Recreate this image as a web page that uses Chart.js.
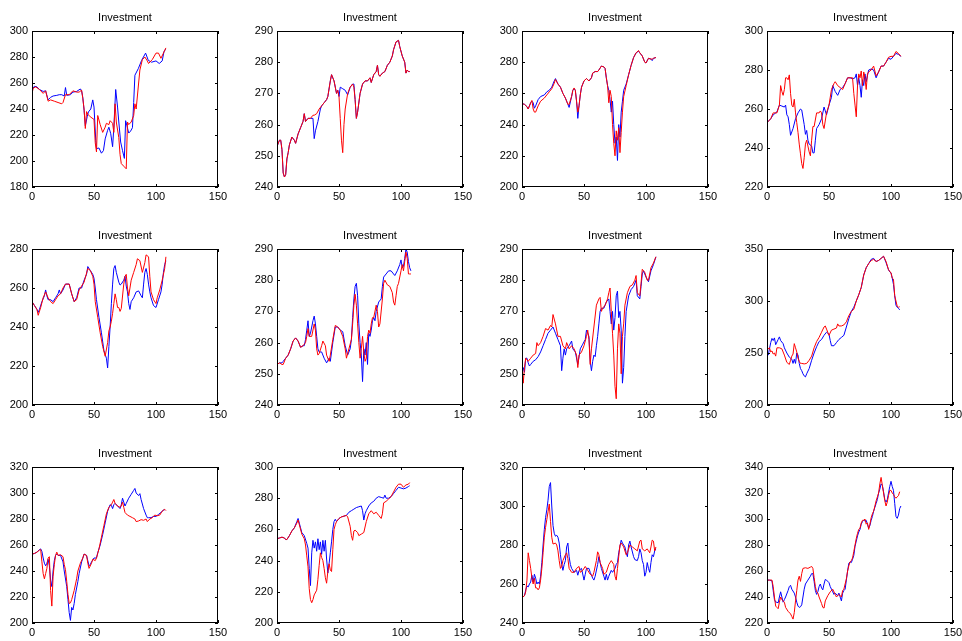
<!DOCTYPE html>
<html>
<head>
<meta charset="utf-8">
<script src="https://cdn.jsdelivr.net/npm/chart.js@4.4.0/dist/chart.umd.min.js"></script>
<style>
    html, body { margin: 0; padding: 0; background: #fff; overflow: hidden; }
    #grid { position: relative; width: 962px; height: 641px; }
    .cell { position: absolute; width: 245px; height: 218px; }
</style>
</head>
<body>
<div id="grid"></div>
<script>
const titleText = 'Investment';
const xTicks = [0, 50, 100, 150];

const yTicks01 = [180, 200, 220, 240, 260, 280, 300];
const yTicks02 = [240, 250, 260, 270, 280, 290];
const yTicks03 = [200, 220, 240, 260, 280, 300];
const yTicks04 = [220, 240, 260, 280, 300];
const yTicks05 = [200, 220, 240, 260, 280];
const yTicks06 = [240, 250, 260, 270, 280, 290];
const yTicks07 = [240, 250, 260, 270, 280, 290];
const yTicks08 = [200, 250, 300, 350];
const yTicks09 = [200, 220, 240, 260, 280, 300, 320];
const yTicks10 = [200, 220, 240, 260, 280, 300];
const yTicks11 = [240, 260, 280, 300, 320];
const yTicks12 = [220, 240, 260, 280, 300, 320, 340];

// [x, value] pairs
const blue01 = [[0,255],[2,257.5],[4,257],[6,255],[9,253.5],[11,254],[13,247],[15,249],[17,250],[20,250.5],[22,251],[24,251],[26,250],[27,256.5],[28,250.5],[31,251],[33,253],[36,253.5],[39,255.4],[40,254],[41,248.7],[42,239],[43,227],[44.5,234],[45.5,237.7],[47.4,240],[49,247],[50,241.5],[51.4,216],[52,209.5],[54,210],[56,206],[57.6,208],[59,217],[61,223.6],[62,226],[63.5,221],[65,211],[66,226],[67.5,255],[69,241.5],[70,230],[71.5,214.6],[73,208],[74.5,202],[75.5,231],[76.6,227],[78,221.5],[79.5,223],[81,225.6],[82,245],[83,266],[85.7,271],[88.4,277.4],[91.6,283],[93.8,277.4],[96.4,276],[100,277],[102.6,275],[105,277],[106.4,284],[107.7,286]];
const red01 = [[0,252],[1,256],[3,257],[6,255],[9,252],[11,254],[13,246],[15,247],[18,246],[21,245],[24,244],[25,245],[27,251],[30,251],[33,254],[36,253],[38,253],[40,254.5],[41,248],[42,240],[43,225],[44,238],[45,236],[47,234],[50,232],[51,214],[52,207],[53,235],[55,228],[57,222],[59,226],[60,229],[62,228],[63,231],[65,229],[66,222],[67,244],[68,230],[70,218],[71,205],[72,198],[74,196],[76,194],[77,230],[78,228],[80,230],[82,235],[83,244],[84,240],[86,260],[87,270],[89,278],[91,280],[93,277],[94,275],[97,278],[100,283],[102,283],[104,279],[106,283],[108,287]];

const blue02 = [[0,253],[2,255],[3,255],[4,252],[5,244.5],[6,243.2],[7,244],[8,249],[9,251],[10,253.5],[12,256],[14,255],[15,254],[17,257],[19,259],[21,261],[22,263.5],[23,261],[25,262],[27,262],[29,262],[30,255.5],[31,258],[33,261],[35,265],[36,266],[38,267],[40,268],[41,269],[43,274],[44,276],[46,274],[48,270],[49,271],[50,269],[51,272],[53,271.5],[55,271],[57,269.5],[59,272],[61,273],[62,273],[63,268],[64,262],[65,264],[67,270],[69,273],[71,274],[73,274],[75,275],[76,273.5],[78,276],[80,277],[81,279],[82,276],[83,275.5],[85,276.5],[87,277],[89,279],[91,280],[93,282],[94,284],[96,286.5],[98,287],[99,285],[101,282],[103,280],[104,276.5],[105,277.5],[106,277],[107,277]];
const red02 = [[0,253],[2,255],[3,255],[4,252],[5,244.5],[6,243.2],[7,244],[8,249],[9,251],[10,253.5],[12,256],[14,255],[15,254],[17,257],[19,259],[21,261],[22,263.5],[23,261],[25,262],[27,262],[29,263],[30,263],[32,263.5],[34,265],[36,266],[38,267],[40,268],[41,269],[43,274],[44,276],[46,274],[48,270],[49,271],[50,269],[51,262],[52,255],[53,251],[54,260],[55,265],[57,270],[59,272],[61,273],[62,272],[63,268],[64,262],[65,264],[67,270],[69,273],[71,274],[73,274],[75,275],[76,273.5],[78,276],[80,277],[81,279],[82,276],[83,275.5],[85,276.5],[87,277],[89,279],[91,280],[93,282],[94,284],[96,286.5],[98,287],[99,285],[101,282],[103,280],[104,276.5],[105,277.5],[106,277],[107,277]];

const blue03 = [[0,253.5],[2,253],[4,251.5],[5,250],[7,254],[8,255],[9,254],[10,250.5],[11,252],[13,256],[15,258],[18,259],[20,261],[22,262],[24,264],[26,268],[27,269.5],[29,266],[31,264],[33,260],[35,257],[37,253],[38,251],[40,258],[41,262],[42,263],[43,262],[44,255],[45,244],[46,252],[47,259],[48,264],[50,268],[52,269.5],[54,268],[56,270],[57,273],[59,274],[61,274],[62,275],[64,277.5],[66,277],[67,276],[68,270],[69,265],[70,262],[71,256],[72,248],[73,255],[74,240],[75,228],[76,232],[77,217],[78,240],[79,232],[80,248],[81,255],[82,262],[84,266],[86,272],[88,278],[90,283],[92,286],[94,287],[95,286],[97,284],[99,280],[100,279.5],[102,282.5],[104,282],[105,281],[106,282.5],[108,283]];
const red03 = [[0,253.5],[2,253],[4,251.5],[5,250],[7,254],[8,255.5],[9,250],[10,248],[11,248],[13,252],[15,255],[18,257],[20,259],[22,261],[24,263],[26,266.5],[27,269],[29,266],[31,264],[33,260],[35,257],[37,253],[38,253],[40,258],[41,262],[42,263.5],[43,262],[44,255],[45,248],[46,252],[47,259],[48,264],[50,268],[52,269.5],[54,268],[56,270],[57,273],[59,274],[61,274],[62,275],[64,277.5],[66,277],[67,276],[68,270],[69,265],[70,254],[71,262],[72,258],[73,240],[74,228],[75,220],[76,236],[77,230],[78,238],[79,222],[80,235],[81,248],[82,258],[84,265],[86,272],[88,278],[90,283],[92,286],[94,287.5],[95,286],[97,284],[99,280],[100,279.5],[102,282.5],[104,282],[105,282],[106,282.5],[108,283]];

const blue04 = [[0,253],[3,255],[5,257],[8,258.5],[10,262],[12,261.5],[14,261],[15,262],[16,257],[17,256],[18,252],[19,246.5],[21,250],[23,255],[25,258],[27,260],[28,259.5],[30,252],[31,247],[32,249],[33,244],[34,242],[36,241],[37,237.5],[38,237.5],[39,244],[40,250],[42,252],[44,255],[46,261],[47,259],[48,257],[50,262],[52,266],[53,272],[55,269],[57,267],[59,270],[61,271],[63,273],[65,276],[67,276],[69,275.5],[71,276],[72,278],[73,272],[74,276],[75,272],[76,266],[77,275],[78,272],[79,278],[80,274],[82,280],[84,280.5],[86,280],[88,276],[90,279],[92,282],[94,282],[96,284],[98,286],[100,285.5],[102,287],[104,288.5],[106,288],[108,287]];
const red04 = [[0,253],[3,255],[5,258],[8,258],[10,262],[11,272],[12,269],[13,267],[14,270],[15,276],[16,276],[17,275],[18,277.5],[19,268],[20,262],[21,261],[22,265],[23,258],[24,253],[25,248],[26,242],[27,237],[28,232],[29,229.5],[30,235],[31,242],[32,244],[33,241],[34,238],[35,236],[36,244],[37,251],[38,251],[40,258],[42,258],[43,259],[44,258],[45,252],[46,250],[48,258],[50,262],[52,270],[54,273],[55,274],[57,272],[59,271],[61,270],[63,273],[65,276],[67,276],[69,276],[70,268],[71,262],[72,256],[73,272],[74,278],[75,276],[76,279.5],[77,272],[78,279],[79,276],[80,270],[81,278],[82,279],[84,280],[86,282],[88,277],[90,279],[92,282],[94,282],[96,284],[98,286.5],[100,287],[102,287],[104,289.5],[106,288.5],[108,287]];

const blue05 = [[0,253],[2,251],[4,249],[5,247.5],[6,249],[8,253],[10,256],[11,259],[12,256],[13,254],[15,254],[17,253],[19,255],[21,257],[22,259],[23,257],[25,259],[27,262],[30,262],[32,257],[34,253],[36,255],[38,260],[40,260],[42,264],[44,267],[45,271],[47,269],[49,267],[50,265],[51,260],[52,254],[54,245],[56,237],[58,228],[60,224],[61,219],[62,230],[63,240],[64,252],[65,262],[66,270],[67,271.5],[68,268],[70,263],[71,261.5],[72,262],[74,264],[75,266],[76,261],[77,258],[78,252],[79,249],[80,253],[82,255],[84,258],[86,258.5],[88,256],[89,255],[90,262],[91,268],[92,270],[93,267],[94,262],[95,258],[96,255],[98,251],[100,250],[102,254],[104,258],[105,262],[106,268],[107,272],[108,274]];
const red05 = [[0,253],[2,251],[4,249],[5,246],[7,250],[9,255],[11,258],[13,255],[15,253],[17,252],[19,254],[21,256],[23,257],[25,260],[27,262],[30,262],[32,257],[34,253],[36,254],[38,259],[40,261],[42,263],[45,270],[47,269],[49,266],[50,262],[51,253],[53,245],[55,237],[57,230],[59,225],[61,232],[62,238],[63,240],[64,243],[65,247],[66,252],[67,257],[68,254],[69,250],[70,250],[71,248],[72,249.5],[74,262],[75,266],[76,267],[77,260],[78,256],[80,264],[82,268],[84,272],[85,275],[87,274],[89,268],[91,273],[92,277],[94,276],[95,266],[96,258],[98,254],[100,252],[101,255],[103,259],[105,264],[107,270],[108,276]];

const blue06 = [[0,253],[2,253.5],[4,253.5],[5,254],[7,255],[9,256],[11,258],[13,260.5],[15,261.5],[17,260.5],[19,258.5],[21,259],[22,259],[23,261],[24,264],[25,267],[26,262],[27,263],[28,265],[29,267],[30,268.5],[31,266],[32,262],[33,258],[34,257],[36,257],[38,255],[40,253.5],[42,255],[43,254],[44,257],[45,260],[47,265],[49,265],[51,264],[53,263.5],[55,259],[57,256],[59,258],[60,261],[61,268],[62,274],[63,278],[64,279],[65,275],[66,266],[67,260],[68,256],[69,247.5],[70,258],[71,256],[72,260],[73,253],[74,263],[75,262],[76,264],[77,267],[78,268],[79,267],[80,270],[82,273],[84,274],[85,278],[86,281],[88,282],[90,283],[92,283],[94,282],[95,281.5],[97,283],[99,285],[100,286.5],[101,284],[102,284.5],[103,287],[104,290],[105,289],[106,286],[107,284],[108,283]];
const red06 = [[0,253],[2,253.5],[4,253],[5,253],[7,255],[9,256],[11,258],[13,260.5],[15,261.5],[17,260.5],[19,258.5],[21,259],[23,260],[24,262],[25,264.5],[26,262],[28,262],[30,266],[31,264],[32,258],[33,256],[34,256.5],[36,259],[37,260.5],[39,259],[40,256],[42,254],[43,256],[45,261],[47,265.5],[49,265],[51,264],[53,262],[55,258],[56,255],[58,258],[60,261],[61,266],[62,272],[63,275.5],[64,272],[65,266],[66,260],[67,255],[68,258],[69,262],[70,257],[71,254],[72,255],[73,262],[74,264],[75,263],[76,266],[77,268],[78,268],[80,272],[81,270],[82,265],[83,266],[85,274],[86,279],[87,280],[89,278.5],[91,278],[93,276],[94,273],[95,272],[96,275],[97,278],[98,279],[100,283],[101,285],[102,283],[103,286],[104,289],[105,287],[106,282],[107,282],[108,282]];

const blue07 = [[0,250],[1,252],[2,250.5],[3,255],[4,255],[5,253.5],[6,252.5],[7,253],[9,254],[11,254.5],[13,255.5],[15,257],[17,259],[19,261],[21,263],[23,264],[25,265],[27,263],[29,261],[31,259],[32,251],[33,255],[34,258],[35,256],[36,258],[38,259],[40,260.5],[41,258],[43,257],[45,253],[47,258],[49,259.5],[51,261],[52,264],[53,263],[54,262],[55,254],[56,251],[57,254],[58,256],[59,255.5],[60,259],[61,262],[62,266],[63,270],[64,271],[66,271],[68,273],[70,274],[71,270],[72,266],[73,270],[74,264],[75,268],[76,275],[77,276.5],[78,268],[79,270],[80,264],[81,247],[82,252],[83,262],[84,270],[86,275],[88,277],[90,278],[92,280],[93,275],[95,274],[96,278],[97,282],[98,283],[100,281],[102,279.5],[104,283],[106,285],[108,287.5]];
const red07 = [[0,253],[1,247],[2,252],[3,255],[4,254.5],[5,254],[7,255],[9,256],[11,256.5],[12,260],[13,259],[15,260],[17,262],[19,264.5],[21,264],[23,265.5],[24,265],[25,269],[27,266],[29,262],[31,262],[33,259],[35,258],[36,260],[38,258],[40,259],[42,258],[44,256],[45,252],[46,256],[48,257],[50,259],[52,262],[53,264],[54,261],[55,253],[56,258],[58,265],[60,272],[62,274],[63,274.5],[64,270],[65,271],[67,272],[69,274],[70,276],[71,277.5],[72,270],[73,263],[74,256],[75,246],[76,242],[77,258],[78,266],[79,263],[80,250],[81,262],[82,266],[83,272],[85,276],[87,278],[89,278.5],[91,280],[92,281.5],[93,276],[95,275],[96,279],[97,283.5],[99,282.5],[101,280],[102,280],[104,284],[106,285.5],[108,287.5]];

const blue08 = [[0,250],[1,248],[2,254],[3,260],[4,264],[5,262],[6,264.5],[7,258],[9,263],[10,265.5],[11,262],[13,259],[14,255],[16,250],[18,246],[20,244],[21,240],[22,244],[23,240],[24,250],[25,248],[26,240],[27,235],[28,233],[29,230],[30,228],[31,227],[32,230],[34,235],[36,243],[38,250],[40,256],[42,261],[44,263],[46,267],[48,270],[50,268],[51,262],[52,257],[54,257],[56,260],[58,263],[60,265],[62,267],[64,275],[66,283],[68,290],[70,294],[72,300],[74,306],[76,313],[78,325],[80,332],[82,336],[84,340],[86,341],[88,338],[90,339],[92,341],[94,343],[96,337],[98,330],[99,328],[100,327],[101,322],[102,316],[103,305],[104,296],[105,294],[106,293],[107,291.5]];
const red08 = [[0,253],[2,255],[3,251],[4,252],[5,249],[6,250],[7,247],[8,255],[10,255],[12,254],[14,248],[16,241],[17,240],[18,239],[19,243],[20,247],[21,249],[22,259],[23,255],[24,251],[25,245],[26,242],[27,240],[28,240],[30,239.5],[32,240],[34,243],[36,247],[38,255],[40,261],[42,265],[44,270],[46,275],[47,276],[48,273],[49,270],[50,267],[52,272],[54,273],[56,274],[57,278],[58,276],[60,276],[62,277],[64,280],[66,286],[68,290],[70,292],[72,300],[74,306],[76,313],[78,325],[80,332],[82,336],[84,339],[86,340],[88,338],[90,339],[92,341],[94,343],[96,338],[98,330],[100,327],[101,322],[102,321],[103,305],[104,300],[105,295],[106,294],[107,294.5]];

const blue09 = [[0,253],[2,253.5],[4,254.5],[6,256.5],[7,257],[8,255],[9,250],[10,246],[11,244],[12,246],[13,249],[14,244],[15,233],[16,228],[17,240],[18,248],[19,252],[20,253],[21,252],[23,252],[25,247],[26,240],[28,228],[29,218],[30,208],[31,202],[32,212],[33,210],[34,215],[35,222],[37,232],[38,238],[40,247],[42,253],[44,252],[45,248],[46,244],[47,245],[48,247],[50,250],[52,250],[53,254],[55,260],[57,268],[59,277],[61,286],[63,291],[64,290.5],[65,288],[66,291],[67,292],[69,290],[71,288],[72,291],[73,296],[74,293],[75,290],[76,292],[78,296],[80,299],[82,302],[83,303.5],[84,300],[86,298],[87,299.5],[88,295],[90,288],[92,283],[93,281],[94,281],[96,281],[98,282],[100,282],[102,283.5],[104,285],[106,287],[107,287]];
const red09 = [[0,253],[2,253.5],[4,254.5],[6,256],[7,256.5],[8,247],[9,238],[10,234],[11,238],[12,242],[13,250],[14,251],[15,225],[16,213],[17,236],[18,245],[19,252],[20,254.5],[21,252],[23,252.5],[25,251],[26,245],[27,241],[28,232],[29,222],[30,215],[31,215.5],[32,218],[34,225],[36,234],[37,240],[39,246],[41,250],[42,253],[44,252],[45,246],[46,242],[48,246],[49,249],[51,248],[52,250],[54,257],[56,266],[58,275],[60,284],[62,289],[64,291],[65,293],[66,295],[67,292],[69,290],[71,289],[72,290],[73,293],[74,289],[75,285],[77,283],[79,282],[81,281],[83,280],[84,278],[86,278.5],[88,279.5],[90,279],[92,280],[93,278],[95,280],[97,281],[99,283],[101,282.5],[103,283],[105,286],[107,287.5],[108,286.5]];

const blue10 = [[0,254],[2,254.5],[4,255],[6,254.5],[7,253.5],[8,253.5],[10,256],[12,259],[14,261],[16,265],[17,267],[18,264],[19,261],[20,258],[22,256],[24,251],[25,248],[26,235],[27,224],[28,245],[29,253],[30,248],[31,252],[32,246],[33,254],[34,247],[35,252],[36,244],[37,253],[38,246],[39,253],[40,241],[41,232],[42,238],[43,245],[44,252],[45,260],[46,265],[47,266.5],[48,265],[50,267],[52,268],[54,268.5],[56,269],[58,271],[60,272],[62,273],[64,274],[66,274.5],[68,275],[69,272],[70,266],[71,270],[72,272],[74,275],[76,277],[78,278],[80,280],[82,281],[84,280.5],[86,280],[87,282],[88,280],[90,280],[92,281],[94,283],[96,285],[98,287],[100,286.5],[102,286],[104,286.5],[106,287.5],[107,288]];
const red10 = [[0,254],[2,254.5],[4,255],[6,254.5],[7,253.5],[8,253.5],[10,256],[12,259],[14,261],[16,264],[17,266],[18,263],[20,257],[22,254],[23,250],[24,243],[25,236],[26,222],[27,215],[28,213],[29,215],[30,218],[32,221],[33,228],[34,237],[35,245],[36,242],[37,240],[38,235],[39,229],[40,225.5],[41,233],[42,238],[43,234],[44,233],[45,247],[46,260],[47,263],[48,265],[50,267],[52,268],[54,268.5],[56,269],[57,268],[59,262],[60,256],[61,253],[62,259],[63,259.5],[65,258],[66,256],[68,257],[70,258],[72,265],[74,270],[76,272],[78,270],[80,271],[82,269],[84,267],[85,270],[86,277],[88,278],[90,279.5],[92,281],[94,284],[96,287],[98,289],[100,289],[102,287],[104,288.5],[106,289],[107,290]];

const blue11 = [[0,253],[2,254],[3,257],[4,259],[5,258.5],[6,260],[7,261],[8,264.5],[9,261],[10,265],[11,263],[12,260],[13,261],[14,260],[15,264],[16,271],[17,280],[18,288],[19,294],[20,298],[21,303],[22,310],[23,312],[24,300],[25,290],[26,286],[27,284.5],[28,285],[29,284],[30,281],[31,275],[32,270],[33,267],[34,270],[35,272],[36,279],[37,281],[38,274],[39,270],[40,268],[42,266],[44,267],[45,264.5],[46,267],[48,268],[50,262],[51,265],[52,268],[54,268],[55,266],[57,263],[58,262],[59,264],[61,270],[62,274],[63,271],[64,268],[66,264],[67,262],[68,265],[69,262],[70,264],[72,267],[73,266],[75,268],[76,270],[77,271],[78,276],[80,282.5],[81,281],[83,279],[84,276],[85,274],[86,280],[87,282],[88,279],[90,274],[91,272.5],[93,272],[94,274],[95,278],[96,276],[97,272],[98,270],[99,264],[100,266],[101,271],[102,268],[103,266],[104,271],[105,275],[106,274],[107,277],[108,278]];
const red11 = [[0,253],[2,254],[3,256],[4,262],[5,276],[6,272],[7,268],[8,263],[9,260],[10,263],[11,258],[12,258],[13,257],[14,258],[15,262],[16,268],[17,276],[18,284],[19,289],[20,293],[21,297],[22,301],[23,292],[24,284],[25,280.5],[27,281],[28,280],[29,277],[30,272],[31,268],[32,269],[33,272],[35,275],[36,276],[37,273],[38,268],[40,266],[42,266],[44,268],[46,269],[47,266],[49,267],[51,269],[53,267],[55,265],[57,264],[58,266],[60,272],[61,276.5],[62,275],[63,271],[65,268],[66,265],[68,266],[70,270],[72,272],[74,270],[75,264],[76,262],[77,268],[78,274],[79,280],[80,281],[82,279],[84,275],[85,276],[87,280],[89,279],[91,278],[93,277],[95,282],[96,282.5],[97,278],[99,277],[101,278],[102,277],[103,276],[104,279],[105,282.5],[106,282],[107,277],[108,279]];

const blue12 = [[0,253],[2,253],[4,252.5],[5,245],[6,238],[7,236],[8,236],[9,235.5],[10,240],[11,244],[12,240],[13,236],[14,238],[15,240],[17,245],[18,248],[19,249],[20,246],[22,243],[23,240],[24,236],[25,233],[26,232],[27,232.5],[28,234],[29,240],[30,246],[31,250],[33,253],[35,256],[36,258],[37,258],[38,252],[39,245],[40,242],[41,244],[42,248],[43,250],[44,247],[45,245.5],[46,250],[47,253.5],[48,253],[50,251],[51,248],[52,246],[53,244],[54,242],[55,243],[57,241],[58,243],[59,240],[60,237],[61,243],[62,245],[63,246],[64,253],[65,260],[66,266],[67,267],[68,266.5],[69,269],[70,272],[71,279],[72,283],[73,287],[74,290],[75,292],[76,296],[77,298],[78,299],[79,298.5],[80,299],[81,296],[82,293],[83,295],[84,299],[85,302],[86,306],[87,309],[88,312],[89,315],[90,320],[91,323],[92,327],[93,326],[94,321],[95,315],[96,313],[97,315],[98,320],[99,325],[100,329],[101,325],[102,322],[103,312],[104,302],[105,300.5],[106,303],[107,308],[108,310]];
const red12 = [[0,253],[2,253],[4,253],[5,248],[6,240],[7,233],[8,232],[9,231],[10,236],[11,240],[12,238],[13,237],[14,236],[15,232],[17,229],[19,227],[20,225],[21,223],[22,228],[23,237],[24,245],[25,253],[26,256],[27,252],[28,258],[29,262],[31,262.5],[33,262],[35,263],[36,263.5],[37,262],[38,255],[39,248],[40,244],[41,243],[42,240],[44,235],[45,232],[46,231.5],[47,237],[49,241],[51,244],[53,246],[55,242],[56,240],[57,241],[58,242],[60,240],[61,245],[62,246],[64,254],[65,260],[66,264],[67,267],[68,268],[69,270],[70,275],[71,280],[72,285],[73,289],[74,292],[75,293],[76,297],[77,299],[78,299],[79,300],[80,296],[81,297],[82,292],[83,296],[84,301],[85,304],[86,306],[87,310],[88,314],[89,317],[90,320],[91,327],[92,332],[93,326],[94,320],[95,314],[96,310],[97,313],[98,318],[99,322],[100,322],[101,320],[102,319],[103,317],[104,316],[105,317],[106,318],[107,321]];

const blueSeries = [blue01, blue02, blue03, blue04, blue05, blue06, blue07, blue08, blue09, blue10, blue11, blue12];
const redSeries = [red01, red02, red03, red04, red05, red06, red07, red08, red09, red10, red11, red12];
const yTickSets = [yTicks01, yTicks02, yTicks03, yTicks04, yTicks05, yTicks06, yTicks07, yTicks08, yTicks09, yTicks10, yTicks11, yTicks12];

const fontFamily = '"Liberation Sans", Arial, sans-serif';

// box round the plot, inward ticks on all four sides, title above
const framePlugin = {
    id: 'frame',
    afterDraw(chart) {
        const { ctx, chartArea: a, scales: { x, y } } = chart;
        const len = 3;
        ctx.save();
        ctx.strokeStyle = '#000';
        ctx.lineWidth = 1;
        ctx.strokeRect(Math.round(a.left) + 0.5, Math.round(a.top) + 0.5,
            Math.round(a.width) - 1, Math.round(a.height) - 1);
        ctx.beginPath();
        x.ticks.forEach(t => {
            const px = Math.round(x.getPixelForValue(t.value)) + 0.5;
            ctx.moveTo(px, a.bottom); ctx.lineTo(px, a.bottom - len);
            ctx.moveTo(px, a.top); ctx.lineTo(px, a.top + len);
        });
        y.ticks.forEach(t => {
            const py = Math.round(y.getPixelForValue(t.value)) + 0.5;
            ctx.moveTo(a.left, py); ctx.lineTo(a.left + len, py);
            ctx.moveTo(a.right, py); ctx.lineTo(a.right - len, py);
        });
        ctx.stroke();
        ctx.fillStyle = '#000';
        ctx.font = '11px ' + fontFamily;
        ctx.textAlign = 'center';
        ctx.textBaseline = 'middle';
        ctx.fillText(titleText, (a.left + a.right) / 2, a.top - 13);
        ctx.restore();
    }
};

const grid = document.getElementById('grid');

blueSeries.forEach((blue, i) => {
    const col = i % 4;
    const row = Math.floor(i / 4);
    const yTicks = yTickSets[i];

    const cell = document.createElement('div');
    cell.className = 'cell';
    cell.style.left = (col * 245) + 'px';
    cell.style.top = (row * 218) + 'px';
    const canvas = document.createElement('canvas');
    canvas.width = 245;
    canvas.height = 218;
    cell.appendChild(canvas);
    grid.appendChild(cell);

    new Chart(canvas.getContext('2d'), {
        type: 'line',
        data: {
            datasets: [{
                label: 'red',
                data: redSeries[i].map(p => ({ x: p[0], y: p[1] })),
                borderColor: '#ff0000',
                borderWidth: 1,
                pointRadius: 0,
                fill: false,
                tension: 0,
                order: 0
            }, {
                label: 'blue',
                data: blue.map(p => ({ x: p[0], y: p[1] })),
                borderColor: '#0000ff',
                borderWidth: 1,
                pointRadius: 0,
                fill: false,
                tension: 0,
                order: 1
            }]
        },
        options: {
            responsive: false,
            animation: false,
            events: [],
            layout: { padding: { left: 0, right: 27, top: 31, bottom: 0 } },
            plugins: {
                legend: { display: false },
                tooltip: { enabled: false },
                title: { display: false }
            },
            scales: {
                x: {
                    type: 'linear',
                    min: xTicks[0],
                    max: xTicks[xTicks.length - 1],
                    grid: { display: false, drawTicks: false },
                    border: { display: false },
                    afterBuildTicks: s => { s.ticks = xTicks.map(v => ({ value: v })); },
                    afterFit: s => { s.height = 31; },
                    ticks: {
                        padding: 3,
                        color: '#000',
                        maxRotation: 0,
                        autoSkip: false,
                        font: { family: fontFamily, size: 11 }
                    }
                },
                y: {
                    type: 'linear',
                    min: yTicks[0],
                    max: yTicks[yTicks.length - 1],
                    grid: { display: false, drawTicks: false },
                    border: { display: false },
                    afterBuildTicks: s => { s.ticks = yTicks.map(v => ({ value: v })); },
                    afterFit: s => { s.width = 32; },
                    ticks: {
                        padding: 4,
                        color: '#000',
                        autoSkip: false,
                        font: { family: fontFamily, size: 11 }
                    }
                }
            }
        },
        plugins: [framePlugin]
    });
});
</script>
</body>
</html>
